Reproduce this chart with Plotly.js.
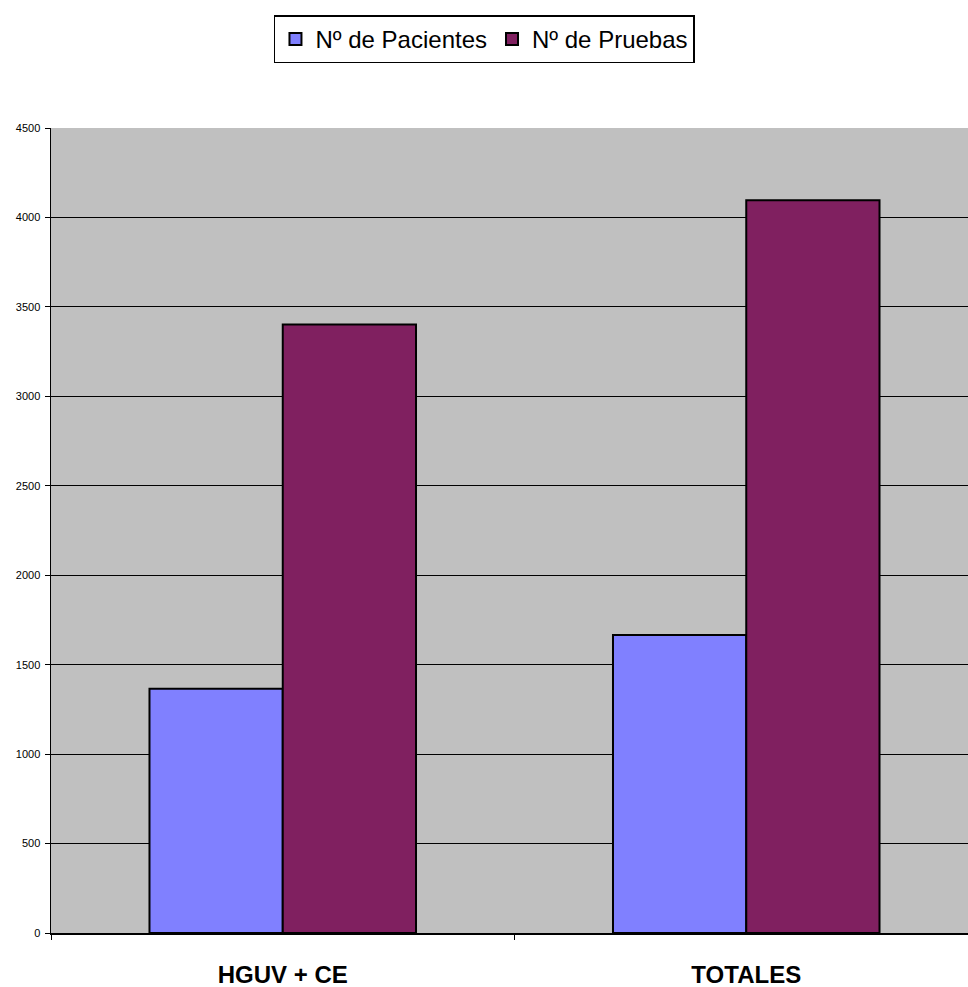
<!DOCTYPE html>
<html>
<head>
<meta charset="utf-8">
<script src="https://cdn.plot.ly/plotly-3.0.1.min.js"></script>
<style>
html,body{margin:0;padding:0;overflow:hidden;background:#fff;}
#chart{width:978px;height:987px;}
</style>
</head>
<body>
<div id="chart"></div>
<script>
const categories = ["HGUV + CE", "TOTALES"];
const pacientes = [1365, 1666];
const pruebas = [3402, 4096];
const seriesNames = ["Nº de Pacientes", "Nº de Pruebas"];
const yTicks = [0, 500, 1000, 1500, 2000, 2500, 3000, 3500, 4000, 4500];

const traces = [
  {type:'bar', x:categories, y:pacientes, name:seriesNames[0],
   marker:{color:'#8080FF', line:{color:'#000', width:2}}},
  {type:'bar', x:categories, y:pruebas, name:seriesNames[1],
   marker:{color:'#802060', line:{color:'#000', width:2}}}
];

const layout = {
  width:978, height:987,
  margin:{l:51, r:0, t:128, b:54},
  paper_bgcolor:'#fff', plot_bgcolor:'#C0C0C0',
  barmode:'group', bargap:0.425, bargroupgap:0,
  font:{family:'Liberation Sans, Arial, sans-serif', color:'#000'},
  showlegend:true,
  legend:{orientation:'h', x:0.4676, xanchor:'center', y:1.14, yanchor:'top',
    bgcolor:'#fff', bordercolor:'#000', borderwidth:1.5,
    font:{size:24, family:'Liberation Sans, Arial, sans-serif'}, itemwidth:20},
  xaxis:{type:'category', showgrid:false, tickson:'boundaries', ticks:'outside', ticklen:5,
    tickcolor:'#000', showline:true, linecolor:'#000', linewidth:1.5,
    tickfont:{size:24, family:'Liberation Sans, Arial, sans-serif', weight:'bold', color:'#000'},
    ticklabelstandoff:20},
  yaxis:{range:[0,4500], tickvals:yTicks, ticks:'outside', ticklen:5, tickcolor:'#000',
    showgrid:true, gridcolor:'#000', gridwidth:1, showline:true, linecolor:'#000', linewidth:1.5,
    zeroline:false, tickfont:{size:11, color:'#000'}, ticklabelstandoff:2}
};

Plotly.newPlot('chart', traces, layout, {displayModeBar:false, staticPlot:true});
</script>
</body>
</html>
